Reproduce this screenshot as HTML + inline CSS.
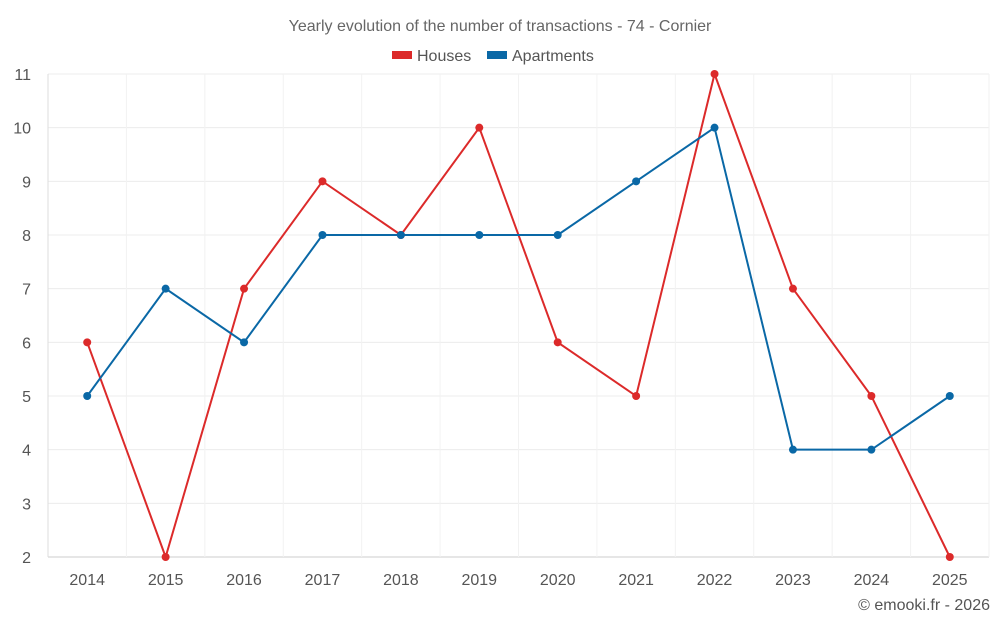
<!DOCTYPE html>
<html><head><meta charset="utf-8"><style>
body{margin:0;background:#fff;font-family:"Liberation Sans",sans-serif;}
</style></head><body>
<svg width="1000" height="625" id="c" xmlns="http://www.w3.org/2000/svg">
<text x="500" y="31" text-anchor="middle" font-size="16" fill="#666">Yearly evolution of the number of transactions - 74 - Cornier</text>
<g>
<g><rect x="392" y="51" width="20" height="8" fill="#dc2a2a"/><text x="417" y="61" font-size="16" fill="#555">Houses</text></g>
<g><rect x="487" y="51" width="20" height="8" fill="#0a68a6"/><text x="512" y="61" font-size="16" fill="#555">Apartments</text></g>
</g>
<g id="grid"></g><g id="axes"></g><g id="series"></g>
<text x="990" y="610" text-anchor="end" font-size="16" fill="#555">© emooki.fr - 2026</text>
</svg>
<script>
const years=["2014","2015","2016","2017","2018","2019","2020","2021","2022","2023","2024","2025"];
const houses=[6,2,7,9,8,10,6,5,11,7,5,2];
const apartments=[5,7,6,8,8,8,8,9,10,4,4,5];
const yTicks=[2,3,4,5,6,7,8,9,10,11];
const NS="http://www.w3.org/2000/svg";
const L=48,R=989,T=74,B=557,yMin=2,yMax=11;
const bw=(R-L)/years.length;
const x=i=>L+bw*(i+0.5);
const y=v=>B-(v-yMin)/(yMax-yMin)*(B-T);
function mk(t,a,p){const e=document.createElementNS(NS,t);for(const k in a)e.setAttribute(k,a[k]);p.appendChild(e);return e;}
const g=document.getElementById('grid'),ax=document.getElementById('axes'),s=document.getElementById('series');
yTicks.forEach(v=>{
 const l=mk('line',{x1:L,x2:R,y1:y(v),y2:y(v),stroke:v===yMin?'#ccc':'#ececec'},g);
 
 
 const t=mk('text',{x:L-17,y:y(v)+6,'text-anchor':'end','font-size':16,fill:'#555'},ax);t.textContent=v;
 
 
});
for(let i=0;i<=years.length;i++){
 const l=mk('line',{x1:L+bw*i,x2:L+bw*i,y1:T,y2:B+(i===0?0:0),stroke:i===0?'#ddd':'#f2f2f2'},g);
 
 
}
years.forEach((yr,i)=>{
 const t=mk('text',{x:x(i),y:585,'text-anchor':'middle','font-size':16,fill:'#555'},ax);t.textContent=yr;
 
 
});
function draw(d,c,name){
 const p=mk('polyline',{points:d.map((v,i)=>x(i)+','+y(v)).join(' '),fill:'none',stroke:c,'stroke-width':2},s);
 
 
 d.forEach((v,i)=>{const e=mk('circle',{cx:x(i),cy:y(v),r:4,fill:c},s);
 
 });
}
draw(houses,'#dc2a2a','houses');
draw(apartments,'#0a68a6','apartments');
</script>
</body></html>
